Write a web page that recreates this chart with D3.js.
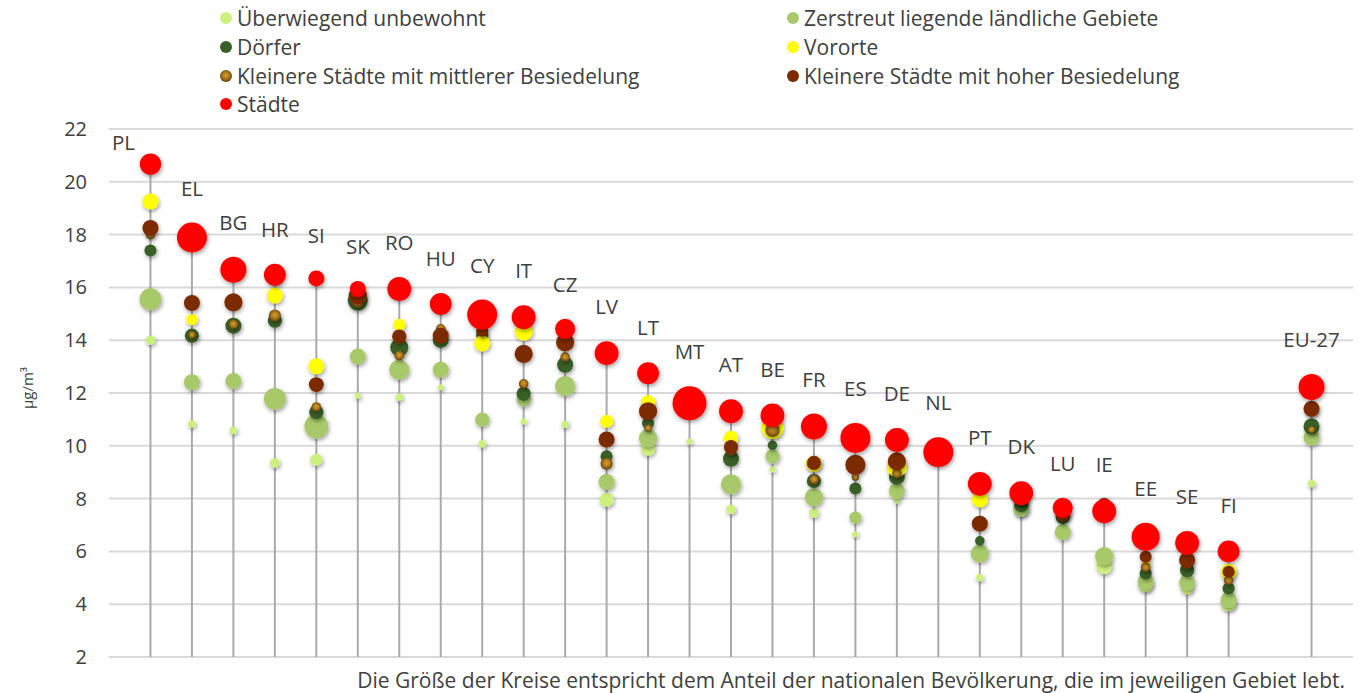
<!DOCTYPE html>
<html>
<head>
<meta charset="utf-8">
<script src="https://cdn.jsdelivr.net/npm/d3@7/dist/d3.min.js"></script>
<style>
  body { margin: 0; background: #fff; }
  svg { display: block; font-family: "Open Sans", "DejaVu Sans", sans-serif; }
</style>
</head>
<body>
<svg id="chart" width="1359" height="693"></svg>
<script>
// PM2.5 exposure (µg/m³) by degree of urbanisation, per country
const countries = ["PL","EL","BG","HR","SI","SK","RO","HU","CY","IT","CZ","LV","LT","MT",
                   "AT","BE","FR","ES","DE","NL","PT","DK","LU","IE","EE","SE","FI","EU-27"];

const yTicks = [2,4,6,8,10,12,14,16,18,20,22];

// Concentration values per settlement type
const uninhabited = [14.0,10.83,10.58,9.35,9.47,11.9,11.84,12.22,10.08,10.92,10.81,7.96,9.89,10.16,
                     7.59,9.1,7.45,6.65,7.93,9.6,5.01,7.55,6.8,5.44,4.72,4.6,4.0,8.57];
const ruralDispersed = [15.55,12.41,12.45,11.78,10.73,13.38,12.88,12.88,10.99,11.75,12.26,8.63,10.29,11.5,
                        8.54,9.6,8.05,7.28,8.29,9.6,5.92,7.62,6.73,5.82,4.85,4.82,4.16,10.31];
const villages = [17.4,14.17,14.55,14.74,11.27,15.5,13.73,14.01,14.2,11.97,13.07,9.6,10.86,11.5,
                  9.51,10.02,8.67,8.38,8.82,9.65,6.4,7.75,7.3,7.5,5.16,5.29,4.6,10.73];
const suburbs = [19.25,14.78,15.5,15.69,13.01,15.75,14.58,14.3,13.88,14.33,14.0,10.93,11.65,11.55,
                 10.3,10.67,9.32,9.3,9.2,9.7,7.97,8.05,7.5,7.6,5.5,5.7,5.23,11.35];
const townsMedium = [18.0,14.2,14.6,14.93,11.47,15.45,13.42,14.43,14.3,12.35,13.36,9.32,10.67,11.6,
                     9.8,10.6,8.72,8.82,8.95,9.7,7.1,7.9,7.35,7.85,5.4,5.5,4.9,10.61];
const townsHigh = [18.25,15.41,15.43,16.3,12.32,15.7,14.14,14.17,14.36,13.48,13.92,10.24,11.31,11.6,
                   9.95,11.0,9.35,9.28,9.41,9.7,7.05,7.95,7.4,7.8,5.8,5.67,5.23,11.4];
const cities = [20.67,17.89,16.67,16.48,16.34,15.94,15.94,15.37,14.97,14.87,14.43,13.51,12.75,11.61,
                11.31,11.15,10.73,10.3,10.22,9.76,8.56,8.21,7.65,7.52,6.55,6.32,6.0,12.23];

// Share of the national population living in each settlement type (%)
const shareUninhabited = [5,3,3,5,8,2,3,2,3,2,3,11,11,2,5,2,5,2,2,1,3,8,4,14,11,8,11,3];
const shareRural = [26,14,14,26,31,14,22,14,11,11,22,14,18,3,22,11,18,8,14,5,18,14,14,18,14,14,14,14];
const shareVillages = [8,11,14,11,11,22,18,14,8,11,14,8,8,5,14,5,11,8,14,11,5,11,11,8,8,11,8,14];
const shareSuburbs = [14,7,5,14,14,8,8,5,14,18,5,9,11,22,11,26,14,11,22,14,14,11,11,11,5,8,14,8];
const shareMedium = [5,3,5,8,5,8,5,5,3,5,5,8,3,2,5,11,5,3,5,5,5,5,5,3,5,5,5,3];
const shareHigh = [14,14,18,5,12,18,11,14,8,18,18,14,18,8,11,8,11,22,18,11,14,8,11,8,8,14,8,14];
const shareCities = [25,49,37,26,14,14,31,26,49,31,22,31,26,63,31,31,37,49,31,49,31,31,22,31,43,31,26,37];

const seriesNames = [
  "Überwiegend unbewohnt",
  "Zerstreut liegende ländliche Gebiete",
  "Dörfer",
  "Vororte",
  "Kleinere Städte mit mittlerer Besiedelung",
  "Kleinere Städte mit hoher Besiedelung",
  "Städte"
];
const seriesValues = [uninhabited, ruralDispersed, villages, suburbs, townsMedium, townsHigh, cities];
const seriesShares = [shareUninhabited, shareRural, shareVillages, shareSuburbs, shareMedium, shareHigh, shareCities];
const seriesFills = ["#ccf07c", "#a7c96b", "#385f25", "#ffff00", "url(#townMedium)", "#7b2b03", "#ff0000"];

const footNote = "Die Größe der Kreise entspricht dem Anteil der nationalen Bevölkerung, die im jeweiligen Gebiet lebt.";
const yTitle = "µg/m³";

const svg = d3.select("#chart");
const defs = svg.append("defs");

const grad = defs.append("radialGradient").attr("id", "townMedium")
  .attr("cx", "50%").attr("cy", "45%").attr("r", "55%");
grad.append("stop").attr("offset", "0%").attr("stop-color", "#d9a031");
grad.append("stop").attr("offset", "55%").attr("stop-color", "#a8741c");
grad.append("stop").attr("offset", "100%").attr("stop-color", "#5a3d0c");

const shadow = defs.append("filter").attr("id", "shadow")
  .attr("x", "-50%").attr("y", "-50%").attr("width", "200%").attr("height", "200%");
shadow.append("feDropShadow").attr("dx", 1).attr("dy", 2).attr("stdDeviation", 2.2)
  .attr("flood-color", "#000").attr("flood-opacity", 0.4);

const x = d3.scaleLinear().domain([0, 30]).range([109, 1353]);
const y = d3.scaleLinear().domain([2, 22]).range([657, 129]);
const r = d3.scaleSqrt().domain([0, 100]).range([0, 21.4]);

// EU-27 sits one slot apart from the member states
const slot = i => countries[i] === "EU-27" ? i + 2 : i + 1;

// horizontal gridlines
svg.append("g").selectAll("line").data(yTicks).join("line")
  .attr("x1", x(0)).attr("x2", x(30))
  .attr("y1", d => y(d)).attr("y2", d => y(d))
  .attr("stroke", "#d9d9d9").attr("stroke-width", 2);

// y axis labels
const yAxis = d3.axisLeft(y).tickValues(yTicks).tickSize(0).tickPadding(0);
const gy = svg.append("g").attr("transform", "translate(87,0)").call(yAxis);
gy.select(".domain").remove();
gy.selectAll("text").attr("font-size", 20).attr("fill", "#404040")
  .attr("font-family", "\"Open Sans\", sans-serif");

svg.append("text")
  .attr("transform", `translate(33,${(y(2) + y(22)) / 2 - 5}) rotate(-90)`)
  .attr("text-anchor", "middle").attr("font-size", 15).attr("fill", "#404040")
  .text(yTitle);

// drop lines from each country's highest value down to the axis floor
const tops = countries.map((c, i) => d3.max(seriesValues, s => s[i]));
svg.append("g").selectAll("line").data(countries).join("line")
  .attr("x1", (d, i) => x(slot(i))).attr("x2", (d, i) => x(slot(i)))
  .attr("y1", (d, i) => y(tops[i])).attr("y2", y(2))
  .attr("stroke", "#aaaaaa").attr("stroke-width", 2);

// bubbles, one layer per settlement type
seriesValues.forEach((vals, s) => {
  svg.append("g").attr("filter", "url(#shadow)")
    .selectAll("circle").data(countries).join("circle")
    .attr("cx", (d, i) => x(slot(i)))
    .attr("cy", (d, i) => y(vals[i]))
    .attr("r", (d, i) => r(seriesShares[s][i]))
    .attr("fill", seriesFills[s]);
});

// country labels above the city bubble
svg.append("g").selectAll("text").data(countries).join("text")
  .attr("font-size", 20.5).attr("fill", "#404040")
  .each(function (d, i) {
    const cx = x(slot(i));
    const cy = y(cities[i]);
    const rr = r(shareCities[i]);
    let ly = cy - rr - 35 + 8;
    let lx = cx;
    if (ly - 14 < y(22)) { lx = cx - 27; ly = cy - 22 + 8; }
    d3.select(this).attr("x", lx).attr("y", ly).attr("text-anchor", "middle").text(d);
  });

// legend in two columns
const legendPos = [[226, 18], [793, 18], [226, 47], [793, 47], [226, 76], [793, 76], [226, 104]];
const lg = svg.append("g");
seriesNames.forEach((name, s) => {
  const [lx, ly] = legendPos[s];
  lg.append("circle").attr("cx", lx).attr("cy", ly).attr("r", 6).attr("fill", seriesFills[s]);
  lg.append("text").attr("x", lx + 11).attr("y", ly + 7.5)
    .attr("font-size", 21).attr("fill", "#404040").text(name);
});

// footnote
svg.append("text").attr("x", 1345).attr("y", 688).attr("text-anchor", "end")
  .attr("font-size", 21).attr("fill", "#404040").text(footNote);
</script>
</body>
</html>
